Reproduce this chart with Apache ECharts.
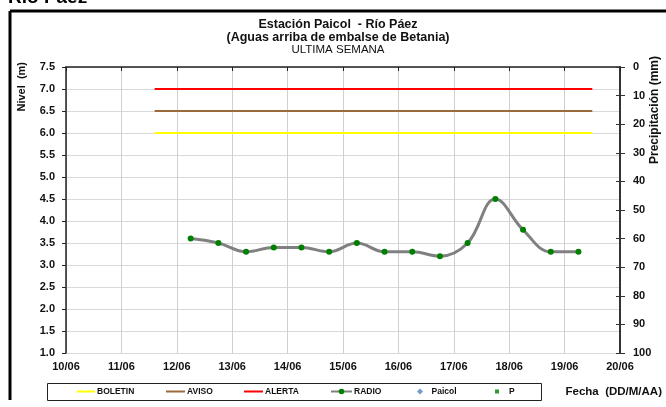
<!DOCTYPE html>
<html>
<head>
<meta charset="utf-8">
<script src="https://cdn.jsdelivr.net/npm/echarts@6/dist/echarts.min.js"></script>
<style>html,body{margin:0;padding:0;background:#fff;}#c{width:666px;height:407px;}</style>
</head>
<body>
<div id="c"></div>
<script>
// Time in day-of-month (June), fractional days
var radioDays = [12.25, 12.75, 13.25, 13.75, 14.25, 14.75, 15.25, 15.75, 16.25, 16.75, 17.25, 17.75, 18.25, 18.75, 19.25];
var radioLevels = [3.6, 3.5, 3.3, 3.4, 3.4, 3.3, 3.5, 3.3, 3.3, 3.2, 3.5, 4.5, 3.8, 3.3, 3.3];
var thresholdSpan = [11.6, 19.5];
var boletinLevel = 6.0;
var avisoLevel = 6.5;
var alertaLevel = 7.0;
var paicolData = [];
var pData = [];
var xMin = 10, xMax = 20;
var seriesNames = ['BOLETIN', 'AVISO', 'ALERTA', 'RADIO', 'Paicol', 'P'];

function pair(days, vals) { return days.map(function (d, i) { return [d, vals[i]]; }); }
function flat(level) { return thresholdSpan.map(function (d) { return [d, level]; }); }
function dayLabel(v) { var d = Math.round(v); return (d < 10 ? '0' + d : '' + d) + '/06'; }

var FONT = 'Liberation Sans, Arial, sans-serif';
var chart = echarts.init(document.getElementById('c'));
var lbl = { color: '#111', fontWeight: 'bold', fontSize: 11, fontFamily: FONT };

function leg(name, left, w, h, icon, pad) {
  var o = {
    data: [icon ? { name: name, icon: icon } : name],
    left: left, top: 387, padding: 0, itemWidth: w, itemHeight: h, selectedMode: false,
    textStyle: { fontSize: 8.5, fontWeight: 'bold', fontFamily: FONT, color: '#111', padding: [0, 0, 0, pad] }
  };
  return o;
}

chart.setOption({
  animation: false,
  backgroundColor: '#fff',
  grid: { left: 66, right: 46, top: 67, bottom: 54, containLabel: false },
  xAxis: {
    type: 'value', min: xMin, max: xMax, interval: 1,
    axisLine: { show: true, lineStyle: { color: '#222', width: 1.5 } },
    axisTick: { show: true, length: 4, lineStyle: { color: '#222' } },
    axisLabel: Object.assign({ margin: 8, formatter: dayLabel }, lbl),
    splitLine: { show: true, lineStyle: { color: '#cfcfcf', width: 1 } }
  },
  yAxis: [
    {
      type: 'value', min: 1, max: 7.5, interval: 0.5, position: 'left',
      axisLine: { show: true, lineStyle: { color: '#222', width: 1.5 } },
      axisTick: { show: true, length: 4, lineStyle: { color: '#222' } },
      axisLabel: Object.assign({ margin: 11, formatter: function (v) { return v.toFixed(1); } }, lbl),
      splitLine: { show: true, lineStyle: { color: '#d9d9d9', width: 1 } }
    },
    {
      type: 'value', min: 0, max: 100, interval: 10, inverse: true, position: 'right',
      axisLine: { show: true, lineStyle: { color: '#333', width: 2 } },
      axisTick: { show: true, length: 5, lineStyle: { color: '#333' } },
      axisLabel: Object.assign({ margin: 13 }, lbl),
      splitLine: { show: false }
    },
    {
      type: 'value', min: 0, max: 100, interval: 10, inverse: true, position: 'right',
      axisLine: { show: false },
      axisTick: { show: true, inside: true, length: 4, lineStyle: { color: '#333' } },
      axisLabel: { show: false },
      splitLine: { show: false }
    }
  ],
  legend: [
    leg('BOLETIN', 77, 18, 2, 'rect', -3),
    leg('AVISO', 166, 19, 2, 'rect', -3),
    leg('ALERTA', 244, 19, 2, 'rect', -3),
    leg('RADIO', 330, 21, 7, null, -3),
    leg('Paicol', 417, 6, 6, 'diamond', 3.5),
    leg('P', 495, 4, 4, 'rect', 5)
  ],
  graphic: [
    { type: 'rect', shape: { x: 47.5, y: 383.5, width: 494, height: 17 }, style: { fill: 'none', stroke: '#222', lineWidth: 1 }, z: -1 },
    { type: 'line', shape: { x1: 10, y1: 11, x2: 666, y2: 11 }, style: { stroke: '#000', lineWidth: 3 } },
    { type: 'line', shape: { x1: 10, y1: 11, x2: 10, y2: 400 }, style: { stroke: '#000', lineWidth: 3 } },
    { type: 'text', left: 8, top: -12, style: { text: 'Río Páez', font: 'bold 19px ' + FONT, fill: '#000' } },
    { type: 'text', x: 338, y: 25, style: { text: 'Estación Paicol  - Río Páez', font: 'bold 12.5px ' + FONT, fill: '#111', textAlign: 'center', textVerticalAlign: 'middle' } },
    { type: 'text', x: 338, y: 37.5, style: { text: '(Aguas arriba de embalse de Betania)', font: 'bold 12.5px ' + FONT, fill: '#111', textAlign: 'center', textVerticalAlign: 'middle' } },
    { type: 'text', x: 338, y: 49.5, style: { text: 'ULTIMA SEMANA', font: '11.5px ' + FONT, fill: '#111', textAlign: 'center', textVerticalAlign: 'middle' } },
    { type: 'text', x: 22, y: 62, rotation: Math.PI / 2, style: { text: 'Nivel  (m)', font: 'bold 11px ' + FONT, fill: '#111', textAlign: 'right', textVerticalAlign: 'middle' } },
    { type: 'text', x: 655, y: 56, rotation: Math.PI / 2, style: { text: 'Precipitación (mm)', font: 'bold 12px ' + FONT, fill: '#111', textAlign: 'right', textVerticalAlign: 'middle' } },
    { type: 'text', x: 662, y: 392, style: { text: 'Fecha  (DD/M/AA)', font: 'bold 11.5px ' + FONT, fill: '#111', textAlign: 'right', textVerticalAlign: 'middle' } }
  ],
  series: [
    { name: 'BOLETIN', type: 'line', yAxisIndex: 0, data: flat(boletinLevel), symbol: 'none', lineStyle: { color: '#ffff00', width: 2 }, itemStyle: { color: '#ffff00' } },
    { name: 'AVISO', type: 'line', yAxisIndex: 0, data: flat(avisoLevel), symbol: 'none', lineStyle: { color: '#9c6a3a', width: 2 }, itemStyle: { color: '#9c6a3a' } },
    { name: 'ALERTA', type: 'line', yAxisIndex: 0, data: flat(alertaLevel), symbol: 'none', lineStyle: { color: '#ff0000', width: 2 }, itemStyle: { color: '#ff0000' } },
    { name: 'RADIO', type: 'line', yAxisIndex: 0, data: pair(radioDays, radioLevels), smooth: 0.4, symbol: 'circle', symbolSize: 6, showSymbol: true,
      lineStyle: { color: '#808080', width: 3 }, itemStyle: { color: '#008000', borderWidth: 0 }, z: 5 },
    { name: 'Paicol', type: 'scatter', yAxisIndex: 0, data: paicolData, symbol: 'diamond', symbolSize: 5, itemStyle: { color: '#4f81bd' } },
    { name: 'P', type: 'scatter', yAxisIndex: 1, data: pData, symbol: 'rect', symbolSize: 3, itemStyle: { color: '#008000' } }
  ]
});
</script>
</body>
</html>
